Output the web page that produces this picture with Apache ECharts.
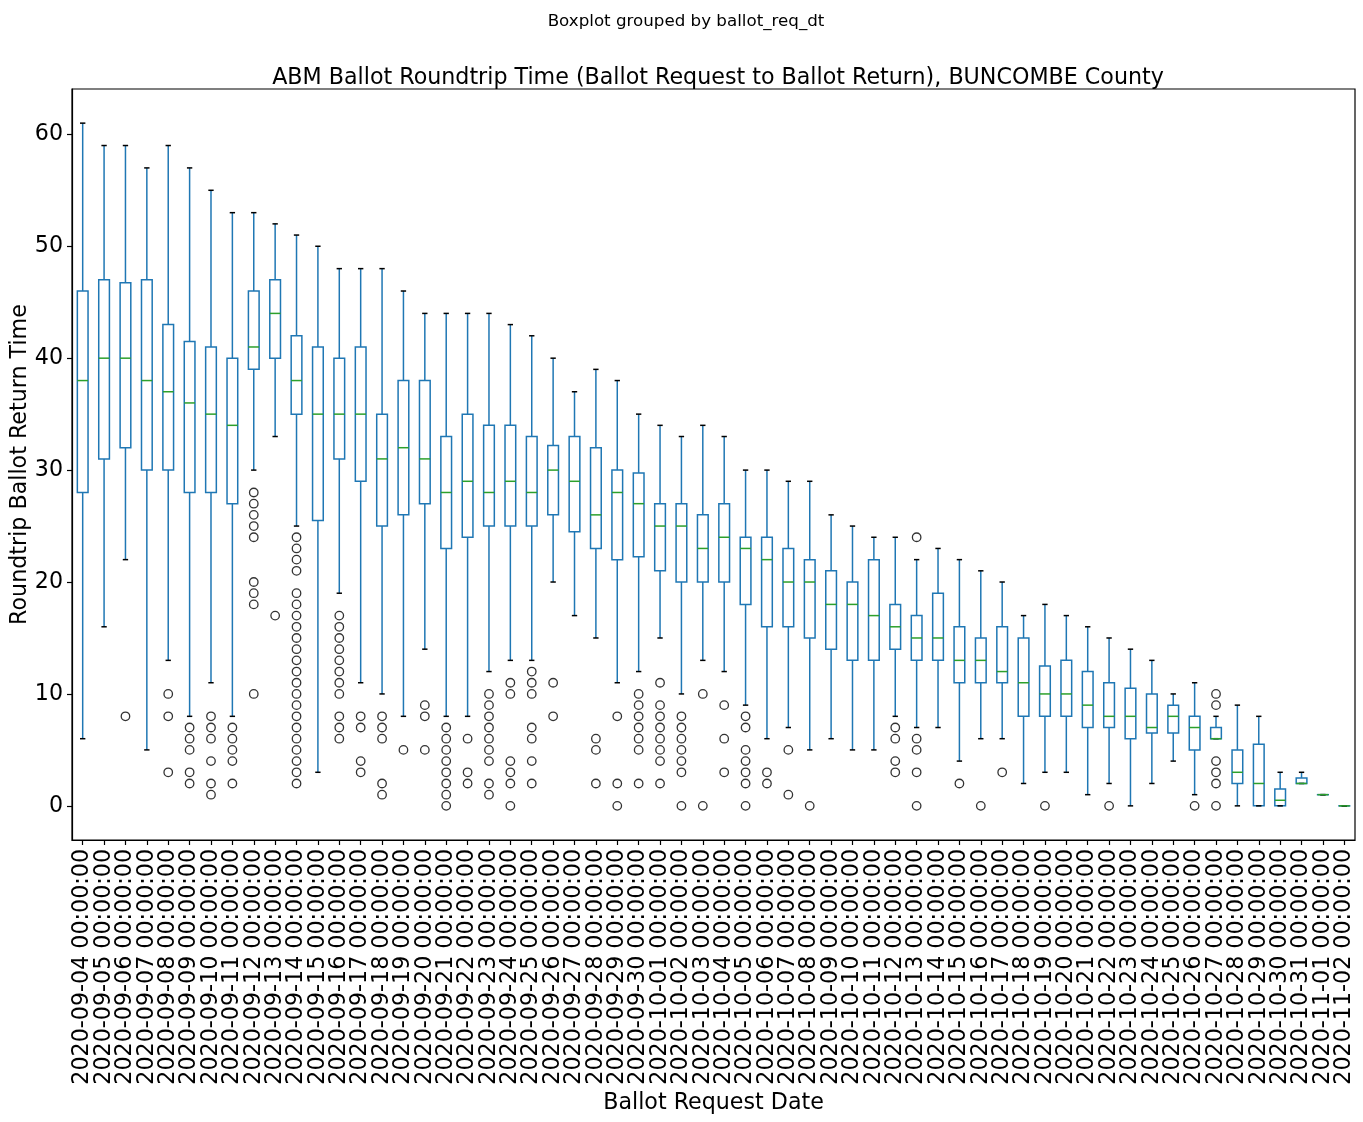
<!DOCTYPE html>
<html>
<head>
<meta charset="utf-8">
<script src="https://cdn.jsdelivr.net/npm/echarts@6/dist/echarts.min.js"></script>
<style>html,body{margin:0;padding:0;background:#fff;}#chart{width:1363px;height:1122px;}</style>
</head>
<body>
<div id="chart"></div>
<script>
// Categories (ballot request dates)
const dates = ["2020-09-04","2020-09-05","2020-09-06","2020-09-07","2020-09-08","2020-09-09","2020-09-10","2020-09-11","2020-09-12","2020-09-13","2020-09-14","2020-09-15","2020-09-16","2020-09-17","2020-09-18","2020-09-19","2020-09-20","2020-09-21","2020-09-22","2020-09-23","2020-09-24","2020-09-25","2020-09-26","2020-09-27","2020-09-28","2020-09-29","2020-09-30","2020-10-01","2020-10-02","2020-10-03","2020-10-04","2020-10-05","2020-10-06","2020-10-07","2020-10-08","2020-10-09","2020-10-10","2020-10-11","2020-10-12","2020-10-13","2020-10-14","2020-10-15","2020-10-16","2020-10-17","2020-10-18","2020-10-19","2020-10-20","2020-10-21","2020-10-22","2020-10-23","2020-10-24","2020-10-25","2020-10-26","2020-10-27","2020-10-28","2020-10-29","2020-10-30","2020-10-31","2020-11-01","2020-11-02"];
const categoryLabels = dates.map(d => d + " 00:00:00");

// Box statistics
const whiskerLow = [6,16,22,5,13,8,11,8,30,33,25,3,19,11,10,8,14,8,8,12,13,13,20,17,15,11,12,15,10,13,12,9,6,7,5,6,5,5,8,7,7,4,6,6,2,3,3,1,2,0,2,4,1,6,0,0,0,2,1,0];
const q1 = [28,31,32,30,30,28,28,27,39,40,35,25.5,31,29,25,26,27,23,24,25,25,25,26,24.5,23,22,22.25,21,20,20,20,18,16,16,15,14,13,13,14,13,13,11,11,11,8,8,8,7,7,6,6.5,6.5,5,6,2,0,0,2,1,0];
const median = [38,40,40,38,37,36,35,34,41,44,38,35,35,35,31,32,31,28,29,28,29,28,30,29,26,28,27,25,25,23,24,23,22,20,20,18,18,17,16,15,15,13,13,12,11,10,10,9,8,8,7,8,7,6,3,2,0.5,2,1,0];
const q3 = [46,47,46.75,47,43,41.5,41,40,46,47,42,41,40,41,35,38,38,33,35,34,34,33,32.2,33,32,30,29.75,27,27,26,27,24,24,23,22,21,20,22,18,17,19,16,15,16,15,12.5,13,12,11,10.5,10,9,8,7,5,5.5,1.5,2.5,1,0];
const whiskerHigh = [61,59,59,57,59,57,55,53,53,52,51,50,48,48,48,46,44,44,44,44,43,42,40,37,39,38,35,34,33,34,33,30,30,29,29,26,25,24,24,22,23,22,21,20,17,18,17,16,15,14,13,10,11,8,9,8,3,3,1,0];

// Outliers (fliers) per category
const outliers = [
  [],[],[8],[],[10,8,3],[7,6,5,3,2],[8,7,6,4,2,1],[7,6,5,4,2],
  [28,27,26,25,24,20,19,18,10],[17],
  [24,23,22,21,19,18,17,16,15,14,13,12,11,10,9,8,7,6,5,4,3,2],
  [],[17,16,15,14,13,12,11,10,8,7,6],[8,7,4,3],[8,7,6,2,1],[5],[9,8,5],
  [7,6,5,4,3,2,1,0],[6,3,2],[10,9,8,7,6,5,4,2,1],[11,10,4,3,2,0],[12,11,10,7,6,4,2],
  [11,8],[],[6,5,2],[8,2,0],[10,9,8,7,6,5,2],[11,9,8,7,6,5,4,2],[8,7,6,5,4,3,0],
  [10,0],[9,6,3],[8,7,5,4,3,2,0],[3,2],[5,1],[0],[],[],[],[7,6,4,3],[24,6,5,3,0],
  [],[2],[0],[3],[],[0],[],[],[0],[],[],[],[0],[10,9,4,3,2,0],[],[],[],[],[],[]
];

const yTicks = [0,10,20,30,40,50,60];

const boxData = dates.map((d, i) => [i, whiskerLow[i], q1[i], median[i], q3[i], whiskerHigh[i]]);
const flierData = [];
outliers.forEach((arr, i) => arr.forEach(v => flierData.push([i, v])));

const FONT = "DejaVu Sans";
const FS = 22.2;
const chart = echarts.init(document.getElementById('chart'), null, {renderer: 'canvas'});

function renderBox(params, api) {
  const i = api.value(0);
  const lo = api.coord([i, api.value(1)]);
  const b1 = api.coord([i, api.value(2)]);
  const md = api.coord([i, api.value(3)]);
  const b3 = api.coord([i, api.value(4)]);
  const hi = api.coord([i, api.value(5)]);
  const band = api.size([1, 0])[0];
  const hw = band * 0.25, cw = band * 0.125;
  const x = lo[0];
  const blue = {stroke: '#1f77b4', lineWidth: 1.5, fill: null};
  const black = {stroke: '#000000', lineWidth: 1.5, fill: null};
  return {
    type: 'group',
    children: [
      {type: 'line', shape: {x1: x, y1: b1[1], x2: x, y2: lo[1]}, style: blue},
      {type: 'line', shape: {x1: x, y1: b3[1], x2: x, y2: hi[1]}, style: blue},
      {type: 'rect', shape: {x: x - hw, y: b3[1], width: 2 * hw, height: Math.max(b1[1] - b3[1], 0.01)}, style: {stroke: '#1f77b4', lineWidth: 1.5, fill: 'rgba(0,0,0,0)'}},
      {type: 'line', shape: {x1: x - cw, y1: lo[1], x2: x + cw, y2: lo[1]}, style: black},
      {type: 'line', shape: {x1: x - cw, y1: hi[1], x2: x + cw, y2: hi[1]}, style: black},
      {type: 'line', shape: {x1: x - hw, y1: md[1], x2: x + hw, y2: md[1]}, style: {stroke: '#2ca02c', lineWidth: 1.5}}
    ]
  };
}

chart.setOption({
  animation: false,
  backgroundColor: '#ffffff',
  textStyle: {fontFamily: FONT},
  title: [
    {text: 'Boxplot grouped by ballot_req_dt', left: 681, textAlign: 'center', top: 8,
     textStyle: {fontFamily: FONT, fontSize: 16.7, fontWeight: 'normal', color: '#000'}},
    {text: 'ABM Ballot Roundtrip Time (Ballot Request to Ballot Return), BUNCOMBE County', left: 713, textAlign: 'center', top: 62,
     textStyle: {fontFamily: FONT, fontSize: FS, fontWeight: 'normal', color: '#000'}}
  ],
  grid: {left: 72, top: 89, width: 1283, height: 751, show: true, borderColor: '#000', borderWidth: 1.2, backgroundColor: 'rgba(0,0,0,0)', containLabel: false, outerBoundsMode: 'none'},
  xAxis: {
    type: 'category', data: categoryLabels, boundaryGap: true,
    name: 'Ballot Request Date', nameLocation: 'middle', nameGap: 252, nameMoveOverlap: false,
    nameTextStyle: {fontFamily: FONT, fontSize: FS, color: '#000'},
    axisLine: {show: true, onZero: false, lineStyle: {color: '#000', width: 1.2}},
    axisTick: {show: true, alignWithLabel: true, length: 5, lineStyle: {color: '#000', width: 1.2}},
    axisLabel: {rotate: 90, interval: 0, margin: 9, fontFamily: FONT, fontSize: FS, color: '#000'},
    splitLine: {show: false}
  },
  yAxis: {
    type: 'value', min: -3.05, max: 64.05,
    name: 'Roundtrip Ballot Return Time', nameLocation: 'middle', nameGap: 41, nameRotate: 90, nameMoveOverlap: false,
    nameTextStyle: {fontFamily: FONT, fontSize: FS, color: '#000'},
    axisLine: {show: true, lineStyle: {color: '#000', width: 1.2}},
    axisTick: {show: true, length: 5, lineStyle: {color: '#000', width: 1.2}},
    axisLabel: {margin: 9, fontFamily: FONT, fontSize: FS, color: '#000', showMinLabel: false, showMaxLabel: false,
      formatter: v => (yTicks.indexOf(Math.round(v * 1000) / 1000) >= 0 ? String(v) : '')},
    splitLine: {show: false}
  },
  series: [
    {type: 'custom', renderItem: renderBox, data: boxData, encode: {x: 0, y: [1, 2, 3, 4, 5]}, z: 2},
    {type: 'scatter', data: flierData, symbol: 'circle', symbolSize: 8.5,
     itemStyle: {color: 'rgba(0,0,0,0)', borderColor: '#000', borderWidth: 1.3}, z: 3}
  ]
});
</script>
</body>
</html>
